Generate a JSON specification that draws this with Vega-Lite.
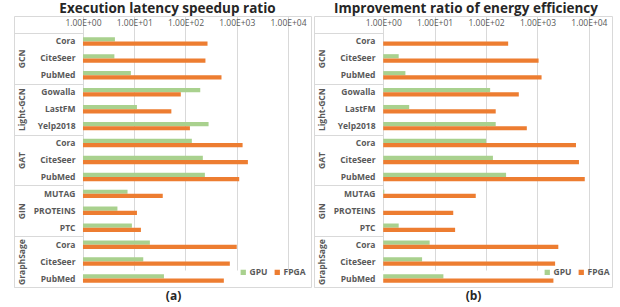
{
  "$schema": "https://vega.github.io/schema/vega-lite/v6.json",
  "padding": {"left": 13, "top": 1, "right": 0, "bottom": 0},
  "config": {
    "view": {"stroke": "#d9d9d9", "strokeWidth": 1},
    "font": "Open Sans",
    "title": {"fontSize": 13.5, "fontWeight": "bold", "color": "#262626", "offset": 1, "font": "Open Sans"}
  },
  "datasets": {
    "latency": [
      {"group": "GCN", "key": "GCN|Cora", "series": "GPU", "value": 4.2},
      {"group": "GCN", "key": "GCN|Cora", "series": "FPGA", "value": 269},
      {"group": "GCN", "key": "GCN|CiteSeer", "series": "GPU", "value": 4.1},
      {"group": "GCN", "key": "GCN|CiteSeer", "series": "FPGA", "value": 245},
      {"group": "GCN", "key": "GCN|PubMed", "series": "GPU", "value": 8.6},
      {"group": "GCN", "key": "GCN|PubMed", "series": "FPGA", "value": 504},
      {"group": "Light-GCN", "key": "Light-GCN|Gowalla", "series": "GPU", "value": 194},
      {"group": "Light-GCN", "key": "Light-GCN|Gowalla", "series": "FPGA", "value": 81},
      {"group": "Light-GCN", "key": "Light-GCN|LastFM", "series": "GPU", "value": 11.3},
      {"group": "Light-GCN", "key": "Light-GCN|LastFM", "series": "FPGA", "value": 53},
      {"group": "Light-GCN", "key": "Light-GCN|Yelp2018", "series": "GPU", "value": 282},
      {"group": "Light-GCN", "key": "Light-GCN|Yelp2018", "series": "FPGA", "value": 122},
      {"group": "GAT", "key": "GAT|Cora", "series": "GPU", "value": 133},
      {"group": "GAT", "key": "GAT|Cora", "series": "FPGA", "value": 1300},
      {"group": "GAT", "key": "GAT|CiteSeer", "series": "GPU", "value": 218},
      {"group": "GAT", "key": "GAT|CiteSeer", "series": "FPGA", "value": 1650},
      {"group": "GAT", "key": "GAT|PubMed", "series": "GPU", "value": 239},
      {"group": "GAT", "key": "GAT|PubMed", "series": "FPGA", "value": 1117},
      {"group": "GIN", "key": "GIN|MUTAG", "series": "GPU", "value": 7.4},
      {"group": "GIN", "key": "GIN|MUTAG", "series": "FPGA", "value": 36},
      {"group": "GIN", "key": "GIN|PROTEINS", "series": "GPU", "value": 4.7},
      {"group": "GIN", "key": "GIN|PROTEINS", "series": "FPGA", "value": 11.3},
      {"group": "GIN", "key": "GIN|PTC", "series": "GPU", "value": 9.0},
      {"group": "GIN", "key": "GIN|PTC", "series": "FPGA", "value": 13.5},
      {"group": "GraphSage", "key": "GraphSage|Cora", "series": "GPU", "value": 20.2},
      {"group": "GraphSage", "key": "GraphSage|Cora", "series": "FPGA", "value": 1000},
      {"group": "GraphSage", "key": "GraphSage|CiteSeer", "series": "GPU", "value": 15},
      {"group": "GraphSage", "key": "GraphSage|CiteSeer", "series": "FPGA", "value": 733},
      {"group": "GraphSage", "key": "GraphSage|PubMed", "series": "GPU", "value": 38},
      {"group": "GraphSage", "key": "GraphSage|PubMed", "series": "FPGA", "value": 560}
    ],
    "energy": [
      {"group": "GCN", "key": "GCN|Cora", "series": "FPGA", "value": 269},
      {"group": "GCN", "key": "GCN|CiteSeer", "series": "GPU", "value": 2.0},
      {"group": "GCN", "key": "GCN|CiteSeer", "series": "FPGA", "value": 1050},
      {"group": "GCN", "key": "GCN|PubMed", "series": "GPU", "value": 2.7},
      {"group": "GCN", "key": "GCN|PubMed", "series": "FPGA", "value": 1200},
      {"group": "Light-GCN", "key": "Light-GCN|Gowalla", "series": "GPU", "value": 120},
      {"group": "Light-GCN", "key": "Light-GCN|Gowalla", "series": "FPGA", "value": 433},
      {"group": "Light-GCN", "key": "Light-GCN|LastFM", "series": "GPU", "value": 3.2},
      {"group": "Light-GCN", "key": "Light-GCN|LastFM", "series": "FPGA", "value": 154},
      {"group": "Light-GCN", "key": "Light-GCN|Yelp2018", "series": "GPU", "value": 154},
      {"group": "Light-GCN", "key": "Light-GCN|Yelp2018", "series": "FPGA", "value": 620},
      {"group": "GAT", "key": "GAT|Cora", "series": "GPU", "value": 100},
      {"group": "GAT", "key": "GAT|Cora", "series": "FPGA", "value": 5600},
      {"group": "GAT", "key": "GAT|CiteSeer", "series": "GPU", "value": 136},
      {"group": "GAT", "key": "GAT|CiteSeer", "series": "FPGA", "value": 6400},
      {"group": "GAT", "key": "GAT|PubMed", "series": "GPU", "value": 245},
      {"group": "GAT", "key": "GAT|PubMed", "series": "FPGA", "value": 8300},
      {"group": "GIN", "key": "GIN|MUTAG", "series": "GPU", "value": 1.05},
      {"group": "GIN", "key": "GIN|MUTAG", "series": "FPGA", "value": 63},
      {"group": "GIN", "key": "GIN|PROTEINS", "series": "GPU", "value": 1.0},
      {"group": "GIN", "key": "GIN|PROTEINS", "series": "FPGA", "value": 23},
      {"group": "GIN", "key": "GIN|PTC", "series": "GPU", "value": 2.0},
      {"group": "GIN", "key": "GIN|PTC", "series": "FPGA", "value": 25},
      {"group": "GraphSage", "key": "GraphSage|Cora", "series": "GPU", "value": 8.0},
      {"group": "GraphSage", "key": "GraphSage|Cora", "series": "FPGA", "value": 2540},
      {"group": "GraphSage", "key": "GraphSage|CiteSeer", "series": "GPU", "value": 5.7},
      {"group": "GraphSage", "key": "GraphSage|CiteSeer", "series": "FPGA", "value": 2200},
      {"group": "GraphSage", "key": "GraphSage|PubMed", "series": "GPU", "value": 14.8},
      {"group": "GraphSage", "key": "GraphSage|PubMed", "series": "FPGA", "value": 2040}
    ]
  },
  "spacing": 3,
  "bounds": "flush",
  "resolve": {
    "scale": {"x": "independent", "y": "independent", "color": "independent"},
    "legend": {"color": "independent"}
  },
  "hconcat": [
    {
      "title": {"text": "Execution latency speedup ratio", "dx": 5},
      "width": 297,
      "height": 271,
      "data": {"name": "latency"},
      "resolve": {"scale": {"y": "independent"}, "axis": {"x": "independent", "y": "independent"}},
      "layer": [
        {
          "mark": {"type": "bar"},
          "encoding": {
            "y": {
              "field": "key", "type": "nominal",
              "scale": {"domain": ["GCN|Cora", "GCN|CiteSeer", "GCN|PubMed", "Light-GCN|Gowalla", "Light-GCN|LastFM", "Light-GCN|Yelp2018", "GAT|Cora", "GAT|CiteSeer", "GAT|PubMed", "GIN|MUTAG", "GIN|PROTEINS", "GIN|PTC", "GraphSage|Cora", "GraphSage|CiteSeer", "GraphSage|PubMed"], "range": [17, 271], "paddingInner": 0.5, "paddingOuter": 0.25},
              "axis": {"orient": "left", "labelExpr": "split(datum.value, '|')[1]", "domain": false, "ticks": false, "grid": false, "title": null, "labelPadding": -61, "labelAlign": "right", "labelFontSize": 8.5, "labelFontWeight": "bold", "labelColor": "#595959"}
            },
            "yOffset": {"field": "series", "type": "nominal", "scale": {"domain": ["GPU", "FPGA"]}},
            "x": {
              "field": "value", "type": "quantitative",
              "scale": {"type": "log", "domain": [0.0451, 28100], "nice": false, "clamp": true},
              "axis": {"orient": "top", "values": [1, 10, 100, 1000, 10000], "labelExpr": "'1.00E+0' + round(log(datum.value)/LN10)", "offset": -17, "labelPadding": 6, "domain": false, "ticks": false, "grid": false, "title": null, "labelFlush": false, "labelOverlap": false, "labelFontSize": 8.5, "labelColor": "#595959"}
            },
            "x2": {"datum": 1},
            "color": {
              "field": "series", "type": "nominal",
              "scale": {"domain": ["GPU", "FPGA"], "range": ["#a9d18e", "#ed7d31"]},
              "legend": {"orient": "none", "legendX": 225, "legendY": 252, "direction": "horizontal", "title": null, "symbolType": "square", "symbolSize": 28, "symbolStrokeWidth": 0, "labelFontSize": 8.5, "labelFontWeight": "bold", "labelColor": "#595959", "columnPadding": 5, "labelOffset": 2, "padding": 0}
            }
          }
        },
        {
          "mark": {"type": "point", "opacity": 0},
          "encoding": {
            "x": {
              "field": "value", "type": "quantitative",
              "scale": {"type": "log", "domain": [0.0451, 28100], "nice": false, "clamp": true},
              "axis": {"orient": "bottom", "values": [1, 10, 100, 1000, 10000], "grid": true, "gridColor": "#d9d9d9", "labels": false, "ticks": false, "domain": false, "title": "(a)", "titleFontSize": 12, "titleFontWeight": "bold", "titleColor": "#262626", "titlePadding": 3, "titleX": 159}
            },
            "y": {
              "field": "group", "type": "nominal",
              "scale": {"type": "band", "domain": ["GCN", "Light-GCN", "GAT", "GIN", "GraphSage"], "range": [17, 271], "paddingInner": 0, "paddingOuter": 0},
              "axis": {"orient": "left", "tickBand": "extent", "tickSize": -69, "tickColor": "#d9d9d9", "domain": false, "grid": false, "title": null, "labelAngle": 270, "labelAlign": "center", "labelBaseline": "middle", "labelPadding": 62, "labelFontSize": 8.5, "labelFontWeight": "bold", "labelColor": "#595959"}
            }
          }
        }
      ]
    },
    {
      "title": {"text": "Improvement ratio of energy efficiency", "dx": 3},
      "width": 298,
      "height": 271,
      "data": {"name": "energy"},
      "resolve": {"scale": {"y": "independent"}, "axis": {"x": "independent", "y": "independent"}},
      "layer": [
        {
          "mark": {"type": "bar"},
          "encoding": {
            "y": {
              "field": "key", "type": "nominal",
              "scale": {"domain": ["GCN|Cora", "GCN|CiteSeer", "GCN|PubMed", "Light-GCN|Gowalla", "Light-GCN|LastFM", "Light-GCN|Yelp2018", "GAT|Cora", "GAT|CiteSeer", "GAT|PubMed", "GIN|MUTAG", "GIN|PROTEINS", "GIN|PTC", "GraphSage|Cora", "GraphSage|CiteSeer", "GraphSage|PubMed"], "range": [17, 271], "paddingInner": 0.5, "paddingOuter": 0.25},
              "axis": {"orient": "left", "labelExpr": "split(datum.value, '|')[1]", "domain": false, "ticks": false, "grid": false, "title": null, "labelPadding": -61, "labelAlign": "right", "labelFontSize": 8.5, "labelFontWeight": "bold", "labelColor": "#595959"}
            },
            "yOffset": {"field": "series", "type": "nominal", "scale": {"domain": ["GPU", "FPGA"]}},
            "x": {
              "field": "value", "type": "quantitative",
              "scale": {"type": "log", "domain": [0.0451, 28100], "nice": false, "clamp": true},
              "axis": {"orient": "top", "values": [1, 10, 100, 1000, 10000], "labelExpr": "'1.00E+0' + round(log(datum.value)/LN10)", "offset": -17, "labelPadding": 6, "domain": false, "ticks": false, "grid": false, "title": null, "labelFlush": false, "labelOverlap": false, "labelFontSize": 8.5, "labelColor": "#595959"}
            },
            "x2": {"datum": 1},
            "color": {
              "field": "series", "type": "nominal",
              "scale": {"domain": ["GPU", "FPGA"], "range": ["#a9d18e", "#ed7d31"]},
              "legend": {"orient": "none", "legendX": 229, "legendY": 252, "direction": "horizontal", "title": null, "symbolType": "square", "symbolSize": 28, "symbolStrokeWidth": 0, "labelFontSize": 8.5, "labelFontWeight": "bold", "labelColor": "#595959", "columnPadding": 5, "labelOffset": 2, "padding": 0}
            }
          }
        },
        {
          "mark": {"type": "point", "opacity": 0},
          "encoding": {
            "x": {
              "field": "value", "type": "quantitative",
              "scale": {"type": "log", "domain": [0.0451, 28100], "nice": false, "clamp": true},
              "axis": {"orient": "bottom", "values": [1, 10, 100, 1000, 10000], "grid": true, "gridColor": "#d9d9d9", "labels": false, "ticks": false, "domain": false, "title": "(b)", "titleFontSize": 12, "titleFontWeight": "bold", "titleColor": "#262626", "titlePadding": 3, "titleX": 159}
            },
            "y": {
              "field": "group", "type": "nominal",
              "scale": {"type": "band", "domain": ["GCN", "Light-GCN", "GAT", "GIN", "GraphSage"], "range": [17, 271], "paddingInner": 0, "paddingOuter": 0},
              "axis": {"orient": "left", "tickBand": "extent", "tickSize": -69, "tickColor": "#d9d9d9", "domain": false, "grid": false, "title": null, "labelAngle": 270, "labelAlign": "center", "labelBaseline": "middle", "labelPadding": 62, "labelFontSize": 8.5, "labelFontWeight": "bold", "labelColor": "#595959"}
            }
          }
        }
      ]
    }
  ]
}
